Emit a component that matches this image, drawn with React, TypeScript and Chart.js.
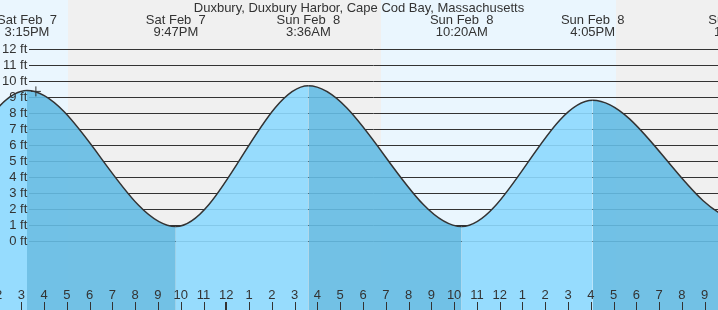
import React, { useEffect, useRef } from 'react';
import { Chart, registerables } from 'chart.js';

Chart.register(...registerables);

// ---- data (hours counted from Sat Feb 7, 00:00) ----
const stationTitle = 'Duxbury, Duxbury Harbor, Cape Cod Bay, Massachusetts';
const extremeHours = [3.0, 9.3, 15.25, 21.783, 27.6, 34.333, 40.083, 46.55, 52.85];
const extremeFeet = [9.6, 0.3, 9.4, 0.9, 9.7, 0.9, 8.8, 1.35, 9.3];
const extremeDates = ['Sat Feb  7', 'Sat Feb  7', 'Sat Feb  7', 'Sat Feb  7', 'Sun Feb  8', 'Sun Feb  8', 'Sun Feb  8', 'Sun Feb  8', 'Mon Feb  9'];
const extremeTimes = ['3:00AM', '9:18AM', '3:15PM', '9:47PM', '3:36AM', '10:20AM', '4:05PM', '10:33PM', '4:51AM'];
const hourTicks = [14, 15, 16, 17, 18, 19, 20, 21, 22, 23, 24, 25, 26, 27, 28, 29, 30, 31, 32, 33, 34, 35, 36, 37, 38, 39, 40, 41, 42, 43, 44, 45];
const hourLabels = ['2', '3', '4', '5', '6', '7', '8', '9', '10', '11', '12', '1', '2', '3', '4', '5', '6', '7', '8', '9', '10', '11', '12', '1', '2', '3', '4', '5', '6', '7', '8', '9'];
const midnightHours = [24];
const feetTicks = [0, 1, 2, 3, 4, 5, 6, 7, 8, 9, 10, 11, 12];
const sunriseHours = [6.82, 30.79];
const sunsetHours = [17.05, 41.09];
const nowHours = [15.64];
const nowFeet = [9.35];

// ---- axis ranges ----
const X_MIN = 14.065;
const X_MAX = 45.584;
const Y_MIN = -4.3125;
const Y_MAX = 15.0625;

// ---- styles ----
const FONT = '"Liberation Sans", Arial, sans-serif';
const TEXT = '#333333';
const NIGHT = '#f0f0f0';
const DAY = '#eaf6fe';
const FLOOD = 'rgba(141,217,254,0.9)';
const EBB = 'rgba(100,187,227,0.9)';
const GRID = '#333333';

const tidePlugin = {
  id: 'tideDecor',
  beforeDraw(chart: any) {
    const { ctx, scales } = chart;
    const x = scales.x;
    ctx.save();
    ctx.fillStyle = NIGHT;
    ctx.fillRect(0, 0, chart.width, chart.height);
    ctx.fillStyle = DAY;
    sunriseHours.forEach((rise, i) => {
      const x0 = Math.round(x.getPixelForValue(rise));
      const x1 = Math.round(x.getPixelForValue(sunsetHours[i]));
      ctx.fillRect(x0, 0, x1 - x0, chart.height);
    });
    ctx.restore();
  },
  beforeDatasetsDraw(chart: any) {
    const { ctx, scales, chartArea } = chart;
    const y = scales.y;
    ctx.save();
    ctx.strokeStyle = GRID;
    ctx.lineWidth = 1;
    ctx.beginPath();
    y.ticks.forEach((t: any) => {
      const py = Math.round(y.getPixelForValue(t.value)) + 0.5;
      ctx.moveTo(29, py);
      ctx.lineTo(chartArea.right, py);
    });
    ctx.stroke();
    ctx.restore();
  },
  afterDatasetsDraw(chart: any) {
    const { ctx, scales, chartArea } = chart;
    const x = scales.x;
    ctx.save();
    ctx.strokeStyle = TEXT;
    x.ticks.forEach((t: any) => {
      const px = x.getPixelForValue(t.value);
      const isMid = midnightHours.includes(t.value);
      ctx.lineWidth = isMid ? 2 : 1;
      const cx = isMid ? Math.round(px) : Math.round(px) + 0.5;
      ctx.beginPath();
      ctx.moveTo(cx, chartArea.bottom - 8);
      ctx.lineTo(cx, chartArea.bottom);
      ctx.stroke();
    });
    ctx.restore();
  },
  afterDraw(chart: any) {
    const { ctx, scales } = chart;
    const x = scales.x;
    ctx.save();
    ctx.fillStyle = TEXT;
    ctx.font = '13px ' + FONT;
    ctx.textAlign = 'center';
    ctx.textBaseline = 'alphabetic';
    ctx.fillText(stationTitle, chart.width / 2, 12);
    extremeHours.forEach((h, i) => {
      const px = x.getPixelForValue(h);
      ctx.fillText(extremeDates[i], px, 24);
      ctx.fillText(extremeTimes[i], px, 36);
    });
    ctx.restore();
  },
};

export default function App() {
  const canvasRef = useRef<HTMLCanvasElement | null>(null);

  useEffect(() => {
    const canvas = canvasRef.current;
    if (!canvas) return;
    const tidePoints = extremeHours.map((h, i) => ({ x: h, y: extremeFeet[i] }));
    const nowPoints = nowHours.map((h, i) => ({ x: h, y: nowFeet[i] }));

    const chart = new Chart(canvas, {
      type: 'line',
      data: {
        datasets: [
          {
            label: 'now',
            data: nowPoints,
            showLine: false,
            pointStyle: 'cross',
            pointRadius: 5,
            pointBorderColor: TEXT,
            pointBorderWidth: 1,
            pointBackgroundColor: TEXT,
          } as any,
          {
            label: 'tide',
            data: tidePoints,
            borderColor: TEXT,
            borderWidth: 1.5,
            pointRadius: 0,
            cubicInterpolationMode: 'monotone',
            capBezierPoints: false,
            fill: 'start',
            backgroundColor: FLOOD,
            segment: {
              backgroundColor: (c: any) => (c.p1.parsed.y >= c.p0.parsed.y ? FLOOD : EBB),
            },
          } as any,
        ],
      },
      options: {
        animation: false,
        responsive: false,
        maintainAspectRatio: false,
        events: [],
        layout: { padding: 0, autoPadding: false },
        plugins: {
          legend: { display: false },
          title: { display: false },
          tooltip: { enabled: false },
        },
        scales: {
          x: {
            type: 'linear',
            position: 'bottom',
            min: X_MIN,
            max: X_MAX,
            grid: { display: false, drawTicks: false },
            border: { display: false },
            afterBuildTicks: (axis: any) => {
              axis.ticks = hourTicks.map((v) => ({ value: v }));
            },
            afterFit: (axis: any) => {
              axis.height = 0;
              axis.paddingLeft = 0;
              axis.paddingRight = 0;
            },
            ticks: {
              z: 1,
              mirror: true,
              padding: 7,
              autoSkip: false,
              maxRotation: 0,
              minRotation: 0,
              includeBounds: false,
              color: TEXT,
              font: { family: FONT, size: 13 },
              callback: (_v: any, i: number) => hourLabels[i],
            },
          },
          y: {
            type: 'linear',
            position: 'left',
            min: Y_MIN,
            max: Y_MAX,
            grid: { display: false, drawTicks: false },
            border: { display: false },
            afterBuildTicks: (axis: any) => {
              axis.ticks = feetTicks.map((v) => ({ value: v }));
            },
            afterFit: (axis: any) => {
              axis.width = 0;
              axis.paddingTop = 0;
              axis.paddingBottom = 0;
            },
            ticks: {
              z: 1,
              mirror: true,
              crossAlign: 'far',
              padding: 2,
              color: TEXT,
              font: { family: FONT, size: 13 },
              callback: (v: any) => `${v} ft`,
            },
          },
        },
      } as any,
      plugins: [tidePlugin],
    });
    return () => chart.destroy();
  }, []);

  return (
    <div style={{ position: 'fixed', left: 0, top: 0, width: 718, height: 310 }}>
      <canvas ref={canvasRef} width={718} height={310} style={{ display: 'block', width: 718, height: 310 }} />
    </div>
  );
}
